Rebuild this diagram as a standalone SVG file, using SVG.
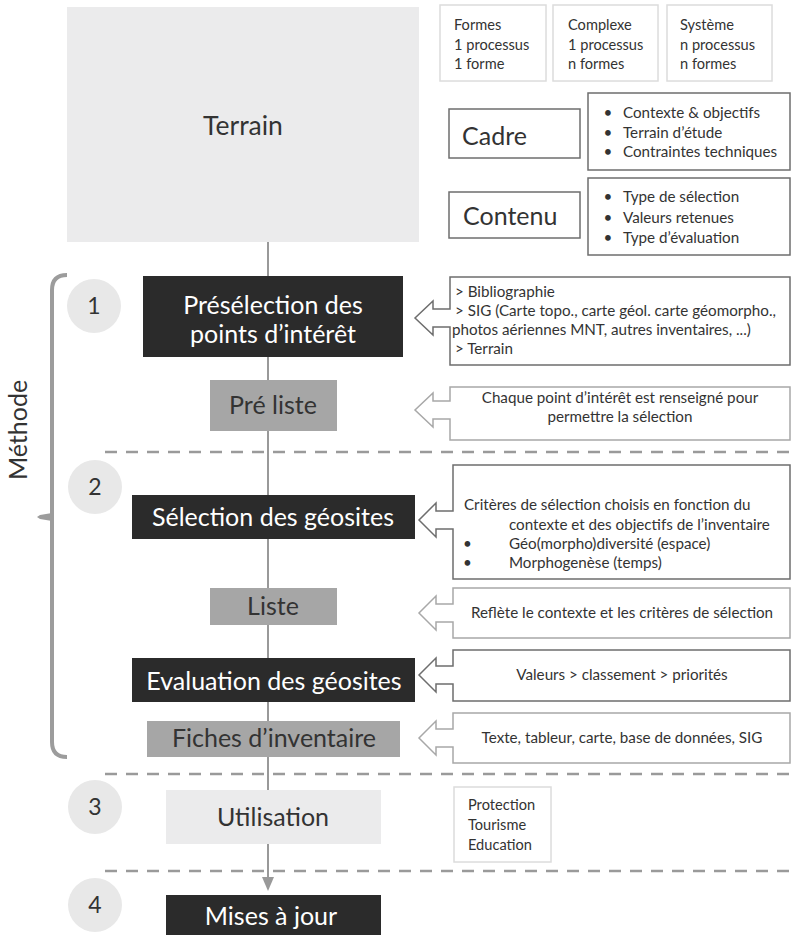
<svg xmlns="http://www.w3.org/2000/svg" width="792" height="935" viewBox="0 0 792 935">
<style>
text{font-family:Lato,"Liberation Sans",sans-serif;fill:#333}
.big{font-size:25px}
.sm{font-size:15.2px}
.xs{font-size:14.6px}
.w{fill:#fff}
.dark{fill:#2b2b2b}
.mid{fill:#a6a6a6}
.light{fill:#ebebec}
.circ{fill:#e8e8e8}
.num{font-size:23px}
.outl{fill:#fff;stroke:#6e6e6e;stroke-width:1.5}
.outl2{fill:#fff;stroke:#a8a8a8;stroke-width:1.5}
.thin{fill:#fff;stroke:#dcdcdc;stroke-width:1.5}
.dash{stroke:#9a9a9a;stroke-width:2.5;stroke-dasharray:12 9;fill:none}
.conn{stroke:#999;stroke-width:2;fill:none}
</style>

<!-- dashed separators -->
<g id="separators">
<line class="dash" x1="105" y1="452" x2="792" y2="452"/>
<line class="dash" x1="105" y1="774" x2="792" y2="774"/>
<line class="dash" x1="105" y1="871" x2="792" y2="871"/>
</g>

<!-- connectors -->
<g id="connectors">
<line class="conn" x1="268" y1="242" x2="268" y2="790"/>
<line class="conn" x1="268" y1="844" x2="268" y2="877"/>
<path d="M262 877 L274 877 L268 891 Z" fill="#999"/>
</g>

<!-- Méthode bracket -->
<g id="methode">
<path d="M67 275 Q52 275 52 290 L52 742 Q52 757 67 757" fill="none" stroke="#9c9c9c" stroke-width="4"/>
<path d="M52 513 L40 515 L37 517 L40 519 L52 521 Z" fill="#9c9c9c"/>
<text transform="translate(27 430) rotate(-90)" text-anchor="middle" style="font-size:25px">Méthode</text>
</g>

<g id="terrain">
<rect class="light" x="67" y="7" width="352" height="235"/>
<text x="243" y="135" text-anchor="middle" style="font-size:26.5px">Terrain</text>
</g>

<g id="formes">
<rect class="thin" x="440" y="5" width="106" height="76"/>
<text class="xs" x="454" y="30">Formes</text>
<text class="xs" x="454" y="50">1 processus</text>
<text class="xs" x="454" y="69">1 forme</text>
</g>
<g id="complexe">
<rect class="thin" x="553" y="5" width="105" height="76"/>
<text class="xs" x="568" y="30">Complexe</text>
<text class="xs" x="568" y="50">1 processus</text>
<text class="xs" x="568" y="69">n formes</text>
</g>
<g id="systeme">
<rect class="thin" x="667" y="5" width="105" height="76"/>
<text class="xs" x="680" y="30">Système</text>
<text class="xs" x="680" y="50">n processus</text>
<text class="xs" x="680" y="69">n formes</text>
</g>

<g id="cadre">
<rect class="outl" x="449" y="109" width="131" height="49"/>
<text class="big" x="462" y="145">Cadre</text>
</g>
<g id="cadre-details">
<rect class="outl" x="588" y="93" width="202" height="77"/>
<text class="sm" x="608" y="118" text-anchor="middle">•</text>
<text class="sm" x="623" y="118">Contexte &amp; objectifs</text>
<text class="sm" x="608" y="138" text-anchor="middle">•</text>
<text class="sm" x="623" y="138">Terrain d’étude</text>
<text class="sm" x="608" y="157" text-anchor="middle">•</text>
<text class="sm" x="623" y="157">Contraintes techniques</text>
</g>

<g id="contenu">
<rect class="outl" x="449" y="192" width="131" height="46"/>
<text class="big" x="463" y="225">Contenu</text>
</g>
<g id="contenu-details">
<rect class="outl" x="588" y="178" width="202" height="77"/>
<text class="sm" x="608" y="202" text-anchor="middle">•</text>
<text class="sm" x="623" y="202">Type de sélection</text>
<text class="sm" x="608" y="223" text-anchor="middle">•</text>
<text class="sm" x="623" y="223">Valeurs retenues</text>
<text class="sm" x="608" y="243" text-anchor="middle">•</text>
<text class="sm" x="623" y="243">Type d’évaluation</text>
</g>

<!-- step circles -->
<g id="step1"><circle class="circ" cx="94" cy="306" r="27"/><text class="num" x="94" y="314" text-anchor="middle">1</text></g>
<g id="step2"><circle class="circ" cx="95" cy="487" r="27"/><text class="num" x="95" y="495" text-anchor="middle">2</text></g>
<g id="step3"><circle class="circ" cx="95" cy="807" r="27"/><text class="num" x="95" y="815" text-anchor="middle">3</text></g>
<g id="step4"><circle class="circ" cx="95" cy="905" r="27"/><text class="num" x="95" y="913" text-anchor="middle">4</text></g>

<g id="preselection">
<rect class="dark" x="143" y="276" width="260" height="81"/>
<text class="big w" x="273" y="314" text-anchor="middle">Présélection des</text>
<text class="big w" x="273" y="343" text-anchor="middle">points d’intérêt</text>
</g>
<g id="preselection-note">
<path class="outl" d="M450 277 H790 V365 H450 V327 H433 V335 L415 318 L433 301 V309 H450 Z"/>
<text class="sm" x="455" y="297">&gt; Bibliographie</text>
<text class="sm" x="455" y="316">&gt; SIG (Carte topo., carte géol. carte géomorpho.,</text>
<text class="sm" x="452" y="335">photos aériennes  MNT, autres inventaires, ...)</text>
<text class="sm" x="455" y="354">&gt; Terrain</text>
</g>

<g id="preliste">
<rect class="mid" x="210" y="380" width="127" height="51"/>
<text class="big" x="273" y="414" text-anchor="middle">Pré liste</text>
</g>
<g id="preliste-note">
<path class="outl2" d="M450 387 H790 V440 H450 V419 H433 V427 L415 410 L433 393 V401 H450 Z"/>
<text class="sm" x="620" y="403" text-anchor="middle">Chaque point d’intérêt est renseigné pour</text>
<text class="sm" x="620" y="422" text-anchor="middle">permettre la sélection</text>
</g>

<g id="selection">
<rect class="dark" x="132" y="495" width="283" height="44"/>
<text class="big w" x="273" y="526" text-anchor="middle">Sélection des géosites</text>
</g>
<g id="selection-note">
<path class="outl" d="M453 465 H790 V579 H453 V529 H436 V537 L419 520 L436 503 V511 H453 Z"/>
<text class="sm" x="464" y="510">Critères de sélection choisis en fonction du</text>
<text class="sm" x="509" y="530">contexte et des objectifs de l’inventaire</text>
<text class="sm" x="463" y="549">•</text>
<text class="sm" x="509" y="549">Géo(morpho)diversité (espace)</text>
<text class="sm" x="463" y="568">•</text>
<text class="sm" x="509" y="568">Morphogenèse (temps)</text>
</g>

<g id="liste">
<rect class="mid" x="210" y="588" width="127" height="37"/>
<text class="big" x="273" y="615" text-anchor="middle">Liste</text>
</g>
<g id="liste-note">
<path class="outl2" d="M453 588 H790 V638 H453 V622 H436 V630 L419 613 L436 596 V604 H453 Z"/>
<text class="sm" x="622" y="618" text-anchor="middle">Reflète le contexte et les critères de sélection</text>
</g>

<g id="evaluation">
<rect class="dark" x="132" y="658" width="283" height="44"/>
<text class="big w" x="274" y="690" text-anchor="middle">Evaluation des géosites</text>
</g>
<g id="evaluation-note">
<path class="outl" d="M453 650 H790 V701 H453 V684 H436 V692 L419 675 L436 658 V666 H453 Z"/>
<text class="sm" x="622" y="680" text-anchor="middle">Valeurs &gt; classement &gt; priorités</text>
</g>

<g id="fiches">
<rect class="mid" x="147" y="721" width="253" height="36"/>
<text class="big" x="274" y="747" text-anchor="middle">Fiches d’inventaire</text>
</g>
<g id="fiches-note">
<path class="outl2" d="M453 713 H790 V763 H453 V747 H436 V755 L419 738 L436 721 V729 H453 Z"/>
<text class="sm" x="622" y="743" text-anchor="middle">Texte, tableur, carte, base de données, SIG</text>
</g>

<g id="utilisation">
<rect class="light" x="166" y="790" width="215" height="54"/>
<text class="big" x="273" y="826" text-anchor="middle">Utilisation</text>
</g>
<g id="utilisation-note">
<rect class="thin" x="454" y="787" width="97" height="75"/>
<text class="xs" x="468" y="810">Protection</text>
<text class="xs" x="468" y="830">Tourisme</text>
<text class="xs" x="468" y="850">Education</text>
</g>

<g id="misesajour">
<rect class="dark" x="166" y="895" width="215" height="45"/>
<text class="big w" x="271" y="925" text-anchor="middle">Mises à jour</text>
</g>
</svg>
